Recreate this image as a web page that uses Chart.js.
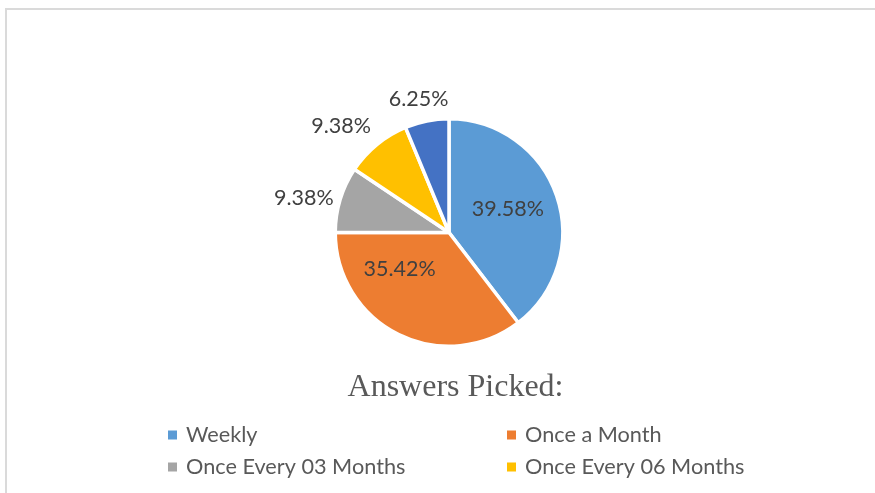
<!DOCTYPE html>
<html><head><meta charset="utf-8">
<script src="https://cdn.jsdelivr.net/npm/chart.js@4.4.0/dist/chart.umd.min.js"></script>
<style>
html,body{margin:0;padding:0;background:#fff;}
#wrap{position:relative;width:875px;height:493px;overflow:hidden;}
#frame{position:absolute;left:5px;top:8px;width:900px;height:520px;border-top:2px solid #dadada;border-left:2px solid #dadada;}
canvas{position:absolute;left:0;top:0;}
</style></head><body>
<div id="wrap"><div id="frame"></div><canvas id="c" width="875" height="493"></canvas></div>
<script>
const categories = ['Weekly', 'Once a Month', 'Once Every 03 Months', 'Once Every 06 Months', 'Once a Year'];
const percentages = [39.58, 35.42, 9.38, 9.38, 6.25];
const labelTexts = ['39.58%', '35.42%', '9.38%', '9.38%', '6.25%'];
const colors = ['#5B9BD5', '#ED7D31', '#A5A5A5', '#FFC000', '#4472C4'];
const chartTitle = 'Answers Picked:';
// label placement: [fraction of the slice's sweep, distance as a multiple of the radius]
const labelPlacement = [[0.482, 0.565], [0.714, 0.549], [0.40, 1.332], [0.32, 1.351], [0.43, 1.222]];

const BW = 3.5;
const overlay = {
  id: 'overlay',
  afterDatasetsDraw(chart) {
    const ctx = chart.ctx;
    const meta = chart.getDatasetMeta(0);
    ctx.save();
    ctx.font = "21.5px Lato";
    ctx.fillStyle = '#404040';
    ctx.textAlign = 'center';
    ctx.textBaseline = 'middle';
    meta.data.forEach((arc, i) => {
      const p = arc.getProps(['x', 'y', 'startAngle', 'endAngle', 'outerRadius'], true);
      const [f, rf] = labelPlacement[i];
      const a = p.startAngle + f * (p.endAngle - p.startAngle);
      const r = (p.outerRadius - BW / 2) * rf;
      ctx.fillText(labelTexts[i], p.x + Math.cos(a) * r, p.y + Math.sin(a) * r);
    });
    // title
    ctx.font = "32px 'Liberation Serif'";
    ctx.fillStyle = '#595959';
    ctx.textBaseline = 'alphabetic';
    ctx.fillText(chartTitle, 455.5, 396);
    // legend (third row falls below the visible area, as in the source)
    const colX = [168, 507];
    const rowY = [435, 467, 510];
    ctx.font = "21.7px Lato";
    ctx.textAlign = 'left';
    ctx.textBaseline = 'middle';
    categories.forEach((c, i) => {
      const x = colX[i % 2], y = rowY[Math.floor(i / 2)];
      ctx.fillStyle = colors[i];
      ctx.fillRect(x, y - 4.5, 9, 9);
      ctx.fillStyle = '#595959';
      ctx.fillText(c, x + 18, y);
    });
    ctx.restore();
  }
};

new Chart(document.getElementById('c'), {
  type: 'pie',
  data: {
    labels: categories,
    datasets: [{
      data: percentages,
      backgroundColor: colors,
      borderColor: '#ffffff',
      borderWidth: BW
    }]
  },
  options: {
    responsive: false,
    animation: false,
    radius: 113.75,
    layout: { padding: { left: 23, right: 0, top: 0, bottom: 28 } },
    plugins: { legend: { display: false }, tooltip: { enabled: false }, title: { display: false } }
  },
  plugins: [overlay]
});
</script>
</body></html>
